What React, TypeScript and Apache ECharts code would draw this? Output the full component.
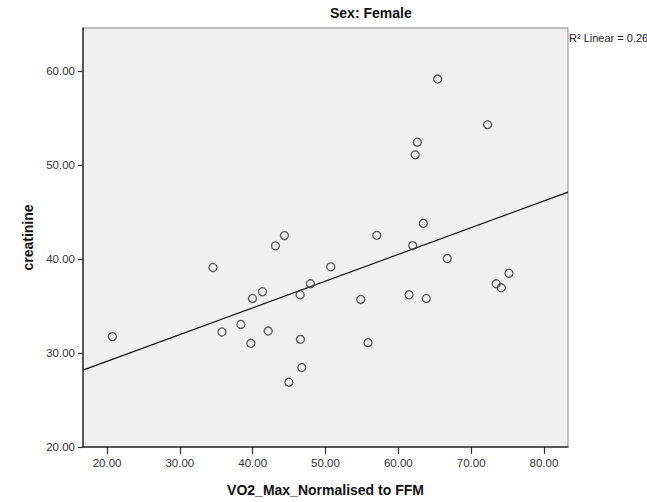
import React, { useEffect, useRef } from "react";
import * as echarts from "echarts";

const chartTitle = "Sex: Female";
const xAxisTitle = "VO2_Max_Normalised to FFM";
const yAxisTitle = "creatinine";

const vo2Max = [
  20.73, 34.54, 35.77, 38.38, 39.75, 39.97, 41.34, 42.13, 43.13, 44.36, 44.97,
  46.52, 46.56, 46.75, 47.93, 50.73, 54.84, 55.84, 57.04, 61.47, 61.97, 62.33,
  62.61, 63.43, 63.84, 65.4, 66.72, 72.26, 73.44, 74.13, 75.19,
];
const creatinine = [
  31.74, 39.09, 32.23, 33.04, 31.03, 35.8, 36.51, 32.33, 41.39, 42.48, 26.89,
  36.19, 31.45, 28.45, 37.36, 39.16, 35.69, 31.1, 42.51, 36.19, 41.42, 51.07,
  52.42, 43.79, 35.8, 59.13, 40.04, 54.28, 37.36, 36.93, 38.48,
];

const xTicks = [20, 30, 40, 50, 60, 70, 80];
const yTicks = [20, 30, 40, 50, 60];
const xRange = [16.7, 83.3];
const yRange = [20, 64.56];

// fit line
const fitIntercept = 23.42;
const fitSlope = 0.2844;

function rSquared(xs: number[], ys: number[]) {
  const n = xs.length;
  const mx = xs.reduce((a, b) => a + b, 0) / n;
  const my = ys.reduce((a, b) => a + b, 0) / n;
  let sxy = 0, sxx = 0, syy = 0;
  for (let i = 0; i < n; i++) {
    sxy += (xs[i] - mx) * (ys[i] - my);
    sxx += (xs[i] - mx) ** 2;
    syy += (ys[i] - my) ** 2;
  }
  return (sxy * sxy) / (sxx * syy);
}

export default function App() {
  const ref = useRef<HTMLDivElement>(null);
  useEffect(() => {
    if (!ref.current) return;
    const chart = echarts.init(ref.current, null, { renderer: "svg" });
    const font = "'Liberation Sans', Arial, sans-serif";
    const r2 = rSquared(vo2Max, creatinine);
    const fitData = xRange.map((x) => [x, fitIntercept + fitSlope * x]);
    chart.setOption({
      animation: false,
      backgroundColor: "#ffffff",
      textStyle: { fontFamily: font },
      grid: {
        left: 83,
        right: 79,
        top: 28,
        bottom: 54,
        show: true,
        backgroundColor: "#f0f0f0",
        borderColor: "#8a8a8a",
        borderWidth: 1,
      },
      graphic: [
        {
          type: "text",
          left: 330,
          top: 6,
          style: {
            text: chartTitle,
            font: `bold 14px ${font}`,
            fill: "#111",
            textAlign: "center",
          },
        },
        {
          type: "text",
          left: 569,
          top: 32,
          style: {
            text: `R² Linear = ${r2.toFixed(3)}`,
            font: `11px ${font}`,
            fill: "#222",
          },
        },
      ],
      xAxis: {
        type: "value",
        min: xRange[0],
        max: xRange[1],
        name: xAxisTitle,
        nameLocation: "middle",
        nameGap: 36,
        nameTextStyle: { fontWeight: "bold", fontSize: 14, color: "#111", fontFamily: font },
        splitLine: { show: false },
        axisLine: { show: true, onZero: false, lineStyle: { color: "#333", width: 1.5 } },
        axisTick: { show: true, length: 7, customValues: xTicks, lineStyle: { color: "#333", width: 1.2 } },
        axisLabel: {
          customValues: xTicks,
          formatter: (v: number) => v.toFixed(2),
          fontSize: 11.5,
          color: "#333",
          margin: 10,
          fontFamily: font,
        },
      },
      yAxis: {
        type: "value",
        min: yRange[0],
        max: yRange[1],
        name: yAxisTitle,
        nameLocation: "middle",
        nameGap: 47,
        nameTextStyle: { fontWeight: "bold", fontSize: 14, color: "#111", fontFamily: font },
        splitLine: { show: false },
        axisLine: { show: true, onZero: false, lineStyle: { color: "#333", width: 1.5 } },
        axisTick: { show: true, length: 5, customValues: yTicks, lineStyle: { color: "#333", width: 1.2 } },
        axisLabel: {
          customValues: yTicks,
          formatter: (v: number) => v.toFixed(2),
          fontSize: 11.5,
          color: "#333",
          margin: 8,
          fontFamily: font,
        },
      },
      series: [
        {
          type: "line",
          data: fitData,
          showSymbol: false,
          silent: true,
          lineStyle: { color: "#111", width: 1.2 },
          z: 1,
        },
        {
          type: "scatter",
          data: vo2Max.map((x, i) => [x, creatinine[i]]),
          symbol: "circle",
          symbolSize: 8,
          itemStyle: { color: "transparent", borderColor: "#333", borderWidth: 1.3 },
          z: 2,
        },
      ],
    });
    return () => chart.dispose();
  }, []);
  return (
    <div
      ref={ref}
      style={{ position: "absolute", left: 0, top: 0, width: 647, height: 502 }}
    />
  );
}
